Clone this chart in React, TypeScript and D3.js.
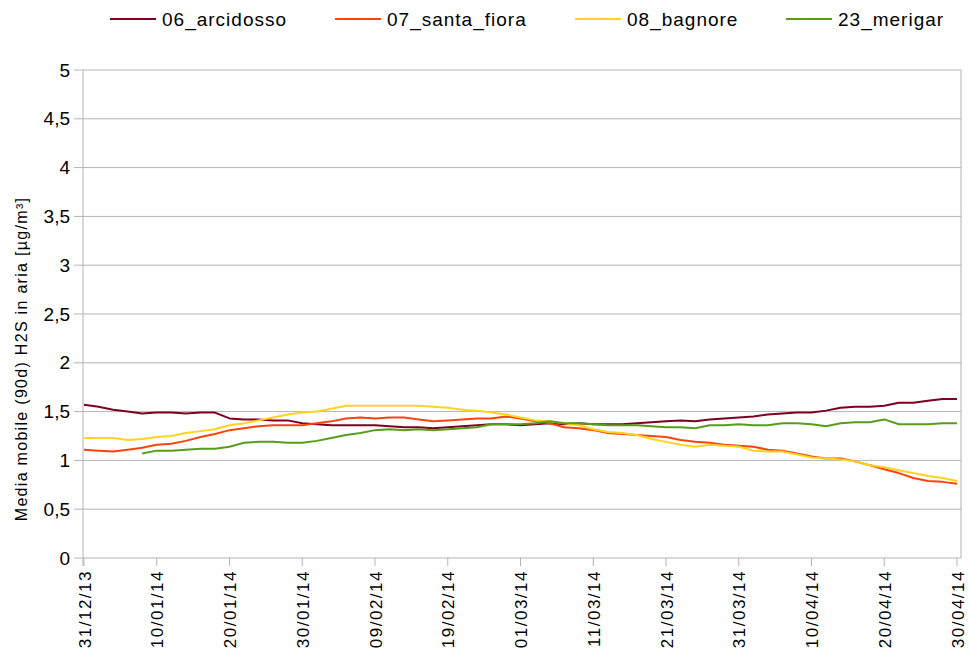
import React from "react";
import * as d3 from "d3";

// 2-day sampling from 31/12/2013 to 30/04/2014 (61 points)
const startDate = new Date(2013, 11, 31);
const stepDays = 2;

const seriesNames = ["06_arcidosso", "07_santa_fiora", "08_bagnore", "23_merigar"];
const seriesColors = ["#7E0021", "#FF420E", "#FFD320", "#579D1C"];

const arcidosso = [
  1.57, 1.55, 1.52, 1.50, 1.48, 1.49, 1.49, 1.48, 1.49, 1.49, 1.43,
  1.42, 1.42, 1.41, 1.41, 1.38, 1.37, 1.36, 1.36, 1.36, 1.36,
  1.35, 1.34, 1.34, 1.33, 1.34, 1.35, 1.36, 1.37, 1.37, 1.36,
  1.37, 1.38, 1.37, 1.38, 1.37, 1.37, 1.37, 1.38, 1.39, 1.40,
  1.41, 1.40, 1.42, 1.43, 1.44, 1.45, 1.47, 1.48, 1.49, 1.49,
  1.51, 1.54, 1.55, 1.55, 1.56, 1.59, 1.59, 1.61, 1.63, 1.63,
];
const santaFiora = [
  1.11, 1.10, 1.09, 1.11, 1.13, 1.16, 1.17, 1.20, 1.24, 1.27, 1.31,
  1.33, 1.35, 1.36, 1.36, 1.36, 1.38, 1.40, 1.43, 1.44, 1.43,
  1.44, 1.44, 1.42, 1.40, 1.41, 1.42, 1.43, 1.43, 1.45, 1.43,
  1.40, 1.38, 1.34, 1.33, 1.31, 1.28, 1.27, 1.26, 1.25, 1.24,
  1.21, 1.19, 1.18, 1.16, 1.15, 1.14, 1.11, 1.10, 1.07, 1.04,
  1.02, 1.02, 0.99, 0.95, 0.91, 0.87, 0.82, 0.79, 0.78, 0.76,
];
const bagnore = [
  1.23, 1.23, 1.23, 1.21, 1.22, 1.24, 1.25, 1.28, 1.30, 1.32, 1.36,
  1.38, 1.41, 1.44, 1.47, 1.49, 1.50, 1.53, 1.56, 1.56, 1.56,
  1.56, 1.56, 1.56, 1.55, 1.54, 1.52, 1.51, 1.49, 1.47, 1.44,
  1.41, 1.40, 1.38, 1.36, 1.32, 1.29, 1.28, 1.26, 1.22, 1.19,
  1.16, 1.14, 1.16, 1.15, 1.14, 1.10, 1.09, 1.09, 1.06, 1.03,
  1.02, 1.01, 0.99, 0.95, 0.93, 0.90, 0.87, 0.84, 0.82, 0.79,
];
const merigar: (number | null)[] = [
  null, null, null, null, 1.07, 1.10, 1.10, 1.11, 1.12, 1.12, 1.14,
  1.18, 1.19, 1.19, 1.18, 1.18, 1.20, 1.23, 1.26, 1.28, 1.31,
  1.32, 1.31, 1.32, 1.31, 1.32, 1.33, 1.34, 1.37, 1.37, 1.37,
  1.38, 1.40, 1.38, 1.38, 1.37, 1.36, 1.36, 1.36, 1.35, 1.34,
  1.34, 1.33, 1.36, 1.36, 1.37, 1.36, 1.36, 1.38, 1.38, 1.37,
  1.35, 1.38, 1.39, 1.39, 1.42, 1.37, 1.37, 1.37, 1.38, 1.38,
];
const allSeries = [arcidosso, santaFiora, bagnore, merigar];

const yTicks = [0, 0.5, 1, 1.5, 2, 2.5, 3, 3.5, 4, 4.5, 5];
const xTickLabels = [
  "31/12/13", "10/01/14", "20/01/14", "30/01/14", "09/02/14", "19/02/14",
  "01/03/14", "11/03/14", "21/03/14", "31/03/14", "10/04/14", "20/04/14", "30/04/14",
];
const yLabel = "Media mobile (90d) H2S in aria [µg/m³]";

const parseTick = d3.timeParse("%d/%m/%y");
const dates = arcidosso.map((_, i) => d3.timeDay.offset(startDate, i * stepDays));

export default function App() {
  const W = 969, H = 651;
  const left = 83, right = 961, top = 70, bottom = 558;
  const x = d3.scaleTime().domain([startDate, new Date(2014, 3, 30)]).range([84, 957]);
  const y = d3.scaleLinear().domain([0, 5]).range([bottom, top]);
  const font = "'Liberation Sans', Arial, sans-serif";

  const line = d3
    .line<number | null>()
    .defined((d) => d !== null)
    .x((_, i) => x(dates[i]))
    .y((d) => y(d as number));

  const legendX = [110, 335, 575, 786];

  return (
    <svg width={W} height={H} style={{ position: "absolute", left: 0, top: 0, background: "#fff" }}>
      <rect x={0} y={0} width={W} height={H} fill="#fff" />
      {/* gridlines */}
      {yTicks.map((t) => (
        <line key={"g" + t} x1={left} x2={right} y1={y(t)} y2={y(t)} stroke="#b3b3b3" strokeWidth={1} />
      ))}
      {/* axes */}
      <line x1={left} x2={left} y1={top} y2={bottom + 8} stroke="#b3b3b3" strokeWidth={1} />
      <line x1={right} x2={right} y1={top} y2={bottom} stroke="#b3b3b3" strokeWidth={1} />
      {yTicks.map((t) => (
        <g key={"yt" + t}>
          <line x1={left - 9} x2={left} y1={y(t)} y2={y(t)} stroke="#b3b3b3" />
          <text
            x={left - 13}
            y={y(t)}
            textAnchor="end"
            dominantBaseline="central"
            fontFamily={font}
            fontSize={19}
            fill="#000"
          >
            {String(t).replace(".", ",")}
          </text>
        </g>
      ))}
      {xTickLabels.map((lab) => {
        const xx = x(parseTick(lab) as Date);
        return (
          <g key={lab}>
            <line x1={xx} x2={xx} y1={bottom} y2={bottom + 8} stroke="#b3b3b3" />
            <text
              transform={`translate(${xx + 1},${bottom + 12}) rotate(-90)`}
              textAnchor="end"
              dominantBaseline="central"
              fontFamily={font}
              fontSize={17}
              letterSpacing={1.5}
              fill="#000"
            >
              {lab}
            </text>
          </g>
        );
      })}
      <text
        transform={`translate(21,359) rotate(-90)`}
        textAnchor="middle"
        dominantBaseline="central"
        fontFamily={font}
        fontSize={16}
        letterSpacing={1.3}
        fill="#000"
      >
        {yLabel}
      </text>
      {/* series */}
      {allSeries.map((s, k) => (
        <path
          key={seriesNames[k]}
          d={line(s) || ""}
          fill="none"
          stroke={seriesColors[k]}
          strokeWidth={2}
          strokeLinejoin="round"
        />
      ))}
      {/* legend */}
      {seriesNames.map((n, k) => (
        <g key={"l" + n}>
          <line x1={legendX[k]} x2={legendX[k] + 46} y1={19} y2={19} stroke={seriesColors[k]} strokeWidth={2} />
          <text
            x={legendX[k] + 52}
            y={19}
            dominantBaseline="central"
            fontFamily={font}
            fontSize={19}
            letterSpacing={1}
            fill="#000"
          >
            {n}
          </text>
        </g>
      ))}
    </svg>
  );
}
